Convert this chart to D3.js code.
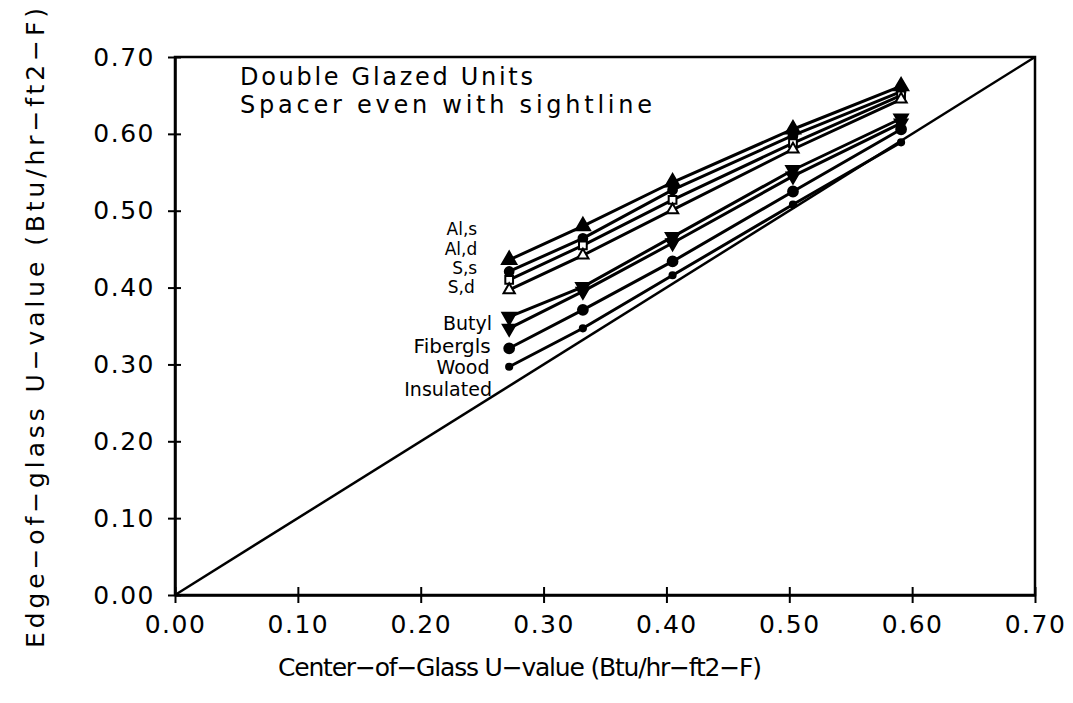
<!DOCTYPE html>
<html>
<head>
<meta charset="utf-8">
<script src="https://cdn.jsdelivr.net/npm/d3@7"></script>
<style>
  html, body { margin: 0; padding: 0; background: #fff; }
  svg { display: block; }
  text { font-family: "DejaVu Sans", sans-serif; fill: #000; }
</style>
</head>
<body>
<svg id="chart" width="1073" height="703"></svg>
<script>
// ---- Data ----
const centerU = [0.272, 0.332, 0.405, 0.503, 0.591];
const seriesNames = ["Al,s", "Al,d", "S,s", "S,d", "Butyl", "Fibergls", "Wood", "Insulated"];
const alS       = [0.436, 0.480, 0.537, 0.606, 0.662];
const alD       = [0.421, 0.464, 0.527, 0.598, 0.655];
const sS        = [0.410, 0.455, 0.514, 0.588, 0.650];
const sD        = [0.397, 0.442, 0.501, 0.580, 0.645];
const butyl     = [0.362, 0.401, 0.466, 0.553, 0.620];
const fiberglas = [0.347, 0.395, 0.458, 0.545, 0.614];
const wood      = [0.321, 0.371, 0.434, 0.525, 0.606];
const insulated = [0.297, 0.347, 0.416, 0.508, 0.589];
const seriesValues = [alS, alD, sS, sD, butyl, fiberglas, wood, insulated];
const xTicks = [0.00, 0.10, 0.20, 0.30, 0.40, 0.50, 0.60, 0.70];
const yTicks = [0.00, 0.10, 0.20, 0.30, 0.40, 0.50, 0.60, 0.70];
const titleLines = ["Double Glazed Units", "Spacer even with sightline"];
const xTitle = "Center\u2212of\u2212Glass U\u2212value (Btu/hr\u2212ft2\u2212F)";
const yTitle = "Edge\u2212of\u2212glass U\u2212value (Btu/hr\u2212ft2\u2212F)";

// ---- Layout / style ----
const plot = { left: 175, right: 1035, top: 57, bottom: 595 };
const markerStyles = [
  { type: d3.symbolTriangle, size: 90, fill: true, rot: 0 },
  { type: d3.symbolCircle, size: 60, fill: true, rot: 0 },
  { type: d3.symbolSquare, size: 60, fill: false, rot: 0 },
  { type: d3.symbolTriangle, size: 55, fill: false, rot: 0 },
  { type: d3.symbolTriangle, size: 80, fill: true, rot: 180 },
  { type: d3.symbolTriangle, size: 70, fill: true, rot: 180 },
  { type: d3.symbolCircle, size: 75, fill: true, rot: 0 },
  { type: d3.symbolCircle, size: 30, fill: true, rot: 0 }
];
// label anchors in data units (right end x, baseline y)
const labelAnchorX = [0.246, 0.246, 0.246, 0.244, 0.258, 0.257, 0.256, 0.258];
const labelAnchorY = [0.468, 0.443, 0.418, 0.393, 0.345, 0.315, 0.287, 0.259];
const labelSize = [17, 17, 17, 17, 19, 20, 19, 19];

const svg = d3.select("#chart");
const x = d3.scaleLinear().domain([0, 0.7]).range([plot.left, plot.right]);
const y = d3.scaleLinear().domain([0, 0.7]).range([plot.bottom, plot.top]);

// frame
svg.append("rect")
  .attr("x", plot.left).attr("y", plot.top)
  .attr("width", plot.right - plot.left).attr("height", plot.bottom - plot.top)
  .attr("fill", "none").attr("stroke", "#000").attr("stroke-width", 2.5);

// axes
const fmt = d3.format(".2f");
const xAxis = d3.axisBottom(x).tickValues(xTicks).tickFormat(fmt).tickSizeInner(8).tickSizeOuter(0).tickPadding(10);
const gx = svg.append("g").attr("transform", `translate(0,${plot.bottom})`).call(xAxis);
gx.select(".domain").attr("stroke-width", 2.5);
gx.selectAll(".tick line").attr("y1", -8).attr("y2", 8).attr("stroke-width", 2);
gx.selectAll(".tick text").attr("font-size", 25).attr("letter-spacing", 1.5)
  .attr("font-family", "DejaVu Sans").attr("dy", "0.75em").attr("y", 19);

const yAxis = d3.axisLeft(y).tickValues(yTicks).tickFormat(fmt).tickSizeInner(7).tickSizeOuter(0).tickPadding(12);
const gy = svg.append("g").attr("transform", `translate(${plot.left},0)`).call(yAxis);
gy.select(".domain").attr("stroke-width", 2.5);
gy.selectAll(".tick line").attr("x1", -7).attr("x2", 6).attr("stroke-width", 2);
gy.selectAll(".tick text").attr("font-size", 25).attr("letter-spacing", 1.5)
  .attr("font-family", "DejaVu Sans").attr("x", -20);

// diagonal reference line
svg.append("line")
  .attr("x1", x(0)).attr("y1", y(0)).attr("x2", x(0.7)).attr("y2", y(0.7))
  .attr("stroke", "#000").attr("stroke-width", 2.5);

// series lines
const line = d3.line().x((d, i) => x(centerU[i])).y(d => y(d));
seriesValues.forEach((vals) => {
  svg.append("path").datum(vals)
    .attr("d", line)
    .attr("fill", "none").attr("stroke", "#000").attr("stroke-width", 3);
});
// markers
seriesValues.forEach((vals, si) => {
  const ms = markerStyles[si];
  const sym = d3.symbol().type(ms.type).size(ms.size);
  svg.append("g").selectAll("path").data(vals).join("path")
    .attr("d", sym)
    .attr("transform", (d, i) => `translate(${x(centerU[i])},${y(d)}) rotate(${ms.rot})`)
    .attr("fill", ms.fill ? "#000" : "#fff")
    .attr("stroke", "#000").attr("stroke-width", 2);
});

// series labels
svg.append("g").selectAll("text").data(seriesNames).join("text")
  .attr("x", (d, i) => x(labelAnchorX[i]))
  .attr("y", (d, i) => y(labelAnchorY[i]))
  .attr("text-anchor", "end")
  .attr("font-size", (d, i) => labelSize[i])
  .text(d => d);

// title
svg.append("text").attr("x", 240).attr("y", 85).attr("font-size", 24)
  .attr("textLength", 293).attr("lengthAdjust", "spacing").text(titleLines[0]);
svg.append("text").attr("x", 240).attr("y", 113).attr("font-size", 24)
  .attr("textLength", 412).attr("lengthAdjust", "spacing").text(titleLines[1]);

// axis titles
svg.append("text").attr("x", 520).attr("y", 676).attr("text-anchor", "middle")
  .attr("font-size", 25).attr("textLength", 484).attr("lengthAdjust", "spacing").text(xTitle);
svg.append("text").attr("transform", "translate(44,328) rotate(-90)").attr("text-anchor", "middle")
  .attr("font-size", 25).attr("textLength", 640).attr("lengthAdjust", "spacing").text(yTitle);
</script>
</body>
</html>
